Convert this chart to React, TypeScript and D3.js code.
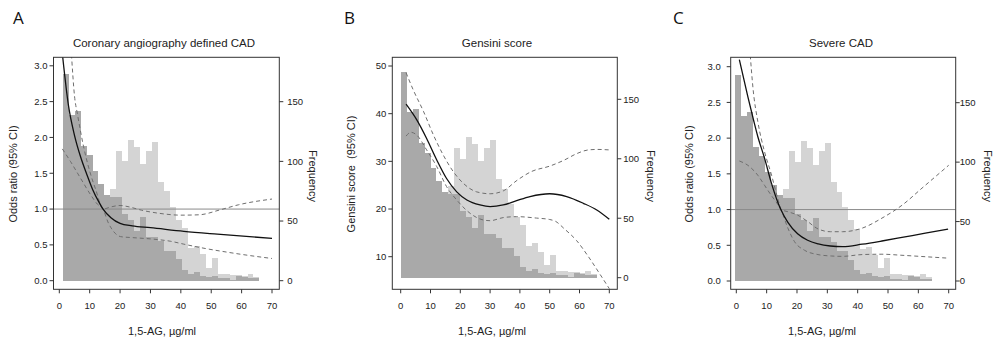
import React from "react";
import * as d3 from "d3";

type Pt = [number, number];

// Histogram counts (same 1,5-AG distribution in every panel), 33 bins of ~2 µg/ml
const darkCounts = [173, 139, 142, 113, 105, 92, 81, 72, 70, 70, 56, 51, 42, 53, 37, 37, 33, 25, 25, 18, 9, 6, 7, 4, 3, 4, 2, 2, 1, 4, 3, 2, 2];
const lightCounts = [2, 4, 8, 14, 22, 35, 48, 62, 77, 109, 100, 118, 112, 98, 109, 116, 83, 75, 62, 51, 44, 27, 29, 22, 11, 19, 6, 6, 5, 5, 4, 6, 3];

// Tick labels
const xTicks = [0, 10, 20, 30, 40, 50, 60, 70];
const orTicks = [0, 0.5, 1, 1.5, 2, 2.5, 3];
const gensiniTicks = [10, 20, 30, 40, 50];
const freqTicks = [0, 50, 100, 150];

// Panel A: coronary angiography defined CAD (odds ratio)
const aEstimate: Pt[] = [[1.1, 3.13], [3, 2.45], [5, 2.03], [7, 1.73], [9, 1.49], [11, 1.27], [13, 1.1], [14.4, 1.0], [17, 0.88], [20, 0.8], [24, 0.765], [30, 0.74], [41, 0.69], [52, 0.65], [70, 0.59]];
const aUpper: Pt[] = [[4.0, 3.16], [5, 2.58], [6, 2.32], [8, 1.87], [10, 1.53], [12, 1.27], [14.4, 1.0], [17, 1.03], [20, 1.05], [23, 1.03], [27, 0.985], [33, 0.94], [40, 0.915], [46, 0.92], [53, 0.99], [59, 1.06], [70, 1.14]];
const aLower: Pt[] = [[1, 1.84], [3.75, 1.66], [7, 1.43], [10.3, 1.2], [12.5, 1.07], [14.4, 1.0], [16, 0.82], [18, 0.68], [20.2, 0.615], [24.6, 0.6], [31, 0.58], [36.7, 0.55], [41, 0.51], [48, 0.45], [55, 0.4], [62, 0.355], [70, 0.31]];

// Panel B: Gensini score
const bEstimate: Pt[] = [[1.8, 42], [5.4, 38.7], [8.7, 34.8], [12.1, 30.3], [15.4, 26.4], [18.8, 23.6], [22.2, 21.9], [26.6, 20.85], [30, 20.5], [34.4, 20.85], [38.9, 21.75], [43.4, 22.6], [50, 23.2], [55.7, 22.6], [61.3, 21.2], [65.8, 19.8], [70, 17.85]];
const bUpper: Pt[] = [[1.8, 48.6], [4.2, 45], [7.7, 40.4], [11, 35.5], [14.3, 31.3], [17.7, 27.8], [21, 25.4], [25.5, 23.6], [30, 23.2], [34.4, 23.8], [39, 26], [44, 27.9], [50, 29.0], [55, 30.3], [59, 31.6], [63, 32.4], [66, 32.5], [70, 32.4]];
const bLower: Pt[] = [[1.8, 35.3], [3.4, 36.1], [5.4, 35.5], [8.7, 32.4], [12.1, 28.9], [15.4, 24.7], [18.8, 21.9], [23.3, 19.1], [27.7, 17.7], [30, 17.55], [34.4, 18.2], [38.9, 18.4], [45.6, 18.1], [50, 17.8], [52, 17.4], [55, 15.8], [59, 13.4], [63, 10], [67, 6.2], [70, 3.3]];

// Panel C: severe CAD (odds ratio)
const cEstimate: Pt[] = [[1, 3.1], [3.8, 2.58], [5.7, 2.25], [7.1, 2.02], [9.3, 1.72], [11.5, 1.38], [13.7, 1.1], [14.8, 0.99], [17, 0.82], [20.2, 0.66], [23.5, 0.57], [27, 0.52], [31, 0.49], [35, 0.48], [41.5, 0.515], [48, 0.56], [54.6, 0.61], [62.3, 0.67], [69.8, 0.725]];
const cUpper: Pt[] = [[4.6, 3.16], [5.5, 2.7], [7.1, 2.23], [9.3, 1.81], [11.5, 1.5], [13.7, 1.15], [14.8, 1.0], [17, 0.97], [20.3, 0.92], [23.6, 0.83], [26.9, 0.73], [31, 0.69], [35, 0.69], [41.5, 0.74], [48, 0.88], [54.6, 1.06], [61.2, 1.3], [65.6, 1.46], [70, 1.62]];
const cLower: Pt[] = [[1, 1.68], [3.8, 1.62], [7.1, 1.48], [9.3, 1.34], [11.5, 1.2], [13.7, 1.07], [14.8, 0.99], [17, 0.74], [19.2, 0.55], [22.5, 0.43], [26.9, 0.37], [31.3, 0.35], [35, 0.345], [41.5, 0.37], [48, 0.375], [54.6, 0.36], [62.3, 0.34], [69.8, 0.32]];

const DARK = "#a9a9a9";
const LIGHT = "#d4d4d4";
const INK = "#222";

interface PanelCfg {
  letter: string; letterX: number;
  title: string; titleX: number;
  ylab: string; ylabX: number;
  freqX: number; xlabX: number;
  box: [number, number, number, number];
  xr: [number, number];
  yDom: [number, number]; yRange: [number, number];
  yTicks: number[]; yFmt: (v: number) => string;
  fr: [number, number];
  histStart: number; histWidth: number;
  est: Pt[]; hi: Pt[]; lo: Pt[];
  refLine: boolean;
  leftGap: number; rightGap: number;
}

const panels: PanelCfg[] = [
  {
    letter: "A", letterX: 13, title: "Coronary angiography defined CAD", titleX: 164,
    ylab: "Odds ratio (95% CI)", ylabX: 17, freqX: 308.5, xlabX: 162,
    box: [53.5, 279.3, 57.3, 289.3], xr: [59.3, 272],
    yDom: [0, 3], yRange: [280.7, 65.8], yTicks: orTicks, yFmt: d3.format(".1f"),
    fr: [280.7, 101.7], histStart: 1.12, histWidth: 1.962,
    est: aEstimate, hi: aUpper, lo: aLower, refLine: true, leftGap: 6, rightGap: 8,
  },
  {
    letter: "B", letterX: 344, title: "Gensini score", titleX: 497,
    ylab: "Gensini score  (95% CI)", ylabX: 355, freqX: 647, xlabX: 492,
    box: [392.3, 617.3, 57.3, 289.3], xr: [400.7, 609.3],
    yDom: [10, 50], yRange: [256.7, 66], yTicks: gensiniTicks, yFmt: d3.format("d"),
    fr: [277.7, 99.3], histStart: 0, histWidth: 2.0,
    est: bEstimate, hi: bUpper, lo: bLower, refLine: false, leftGap: 6, rightGap: 6,
  },
  {
    letter: "C", letterX: 673, title: "Severe CAD", titleX: 841,
    ylab: "Odds ratio (95% CI)", ylabX: 693, freqX: 983.5, xlabX: 822,
    box: [730.7, 955.7, 57.3, 289.3], xr: [736.3, 948.7],
    yDom: [0, 3], yRange: [281, 66.7], yTicks: orTicks, yFmt: d3.format(".1f"),
    fr: [281, 102.7], histStart: -0.33, histWidth: 1.962,
    est: cEstimate, hi: cUpper, lo: cLower, refLine: true, leftGap: 10, rightGap: 4,
  },
];

function Panel({ p }: { p: PanelCfg }) {
  const [bl, br, bt, bb] = p.box;
  const x = d3.scaleLinear().domain([0, 70]).range(p.xr);
  const y = d3.scaleLinear().domain(p.yDom).range(p.yRange);
  const f = d3.scaleLinear().domain([0, 150]).range(p.fr);
  const edges = d3.range(darkCounts.length + 1).map((i) => p.histStart + i * p.histWidth);
  const line = d3.line<Pt>().x((d) => x(d[0])).y((d) => y(d[1])).curve(d3.curveMonotoneX);
  const clipId = "clip" + p.letter;
  const tick = 4;
  const fs = 9.5;

  return (
    <g>
      <defs>
        <clipPath id={clipId}>
          <rect x={bl} y={bt} width={br - bl} height={bb - bt} />
        </clipPath>
      </defs>
      {lightCounts.map((c, i) => (
        <rect key={"l" + i} x={x(edges[i])} y={f(c)} width={x(edges[i + 1]) - x(edges[i])} height={f(0) - f(c)} fill={LIGHT} shapeRendering="crispEdges" />
      ))}
      {darkCounts.map((c, i) => (
        <rect key={"d" + i} x={x(edges[i])} y={f(c)} width={x(edges[i + 1]) - x(edges[i])} height={f(0) - f(c)} fill={DARK} shapeRendering="crispEdges" />
      ))}
      <g clipPath={`url(#${clipId})`}>
        {p.refLine && <line x1={bl} x2={br} y1={y(1)} y2={y(1)} stroke="#8a8a8a" strokeWidth={1} />}
        <path d={line(p.hi) || ""} fill="none" stroke="#6e6e6e" strokeWidth={1} strokeDasharray="4,3" />
        <path d={line(p.lo) || ""} fill="none" stroke="#6e6e6e" strokeWidth={1} strokeDasharray="4,3" />
        <path d={line(p.est) || ""} fill="none" stroke="#111" strokeWidth={1.3} />
      </g>
      <rect x={bl} y={bt} width={br - bl} height={bb - bt} fill="none" stroke="#333" strokeWidth={1} />
      {xTicks.map((t) => (
        <g key={"x" + t}>
          <line x1={x(t)} x2={x(t)} y1={bb} y2={bb + tick} stroke="#333" />
          <text x={x(t)} y={bb + 19.5} fontSize={fs} textAnchor="middle" fill={INK}>{t}</text>
        </g>
      ))}
      {p.yTicks.map((t) => (
        <g key={"y" + t}>
          <line x1={bl - tick} x2={bl} y1={y(t)} y2={y(t)} stroke="#333" />
          <text x={bl - p.leftGap} y={y(t)} dy="0.35em" fontSize={fs} textAnchor="end" fill={INK}>{p.yFmt(t)}</text>
        </g>
      ))}
      {freqTicks.map((t) => (
        <g key={"f" + t}>
          <line x1={br} x2={br + tick} y1={f(t)} y2={f(t)} stroke="#333" />
          <text x={br + p.rightGap} y={f(t)} dy="0.35em" fontSize={fs} textAnchor="start" fill={INK}>{t}</text>
        </g>
      ))}
      <text x={p.letterX} y={24} fontSize={17} fontFamily="'Open Sans', 'Noto Sans', sans-serif" fill="#111">{p.letter}</text>
      <text x={p.titleX} y={46.5} fontSize={11.5} textAnchor="middle" fill={INK}>{p.title}</text>
      <text x={p.xlabX} y={335} fontSize={11} textAnchor="middle" fill={INK}>1,5-AG, µg/ml</text>
      <text transform={`translate(${p.ylabX},174) rotate(-90)`} fontSize={11} textAnchor="middle" fill={INK} style={{ whiteSpace: "pre" }}>{p.ylab}</text>
      <text transform={`translate(${p.freqX},176) rotate(90)`} fontSize={11} textAnchor="middle" fill={INK}>Frequency</text>
    </g>
  );
}

export default function App() {
  return (
    <svg width={993} height={340} style={{ position: "absolute", left: 0, top: 0, display: "block" }} fontFamily="'Liberation Sans', Arial, sans-serif">
      <rect width={993} height={340} fill="#fff" />
      {panels.map((p) => (
        <Panel key={p.letter} p={p} />
      ))}
    </svg>
  );
}
